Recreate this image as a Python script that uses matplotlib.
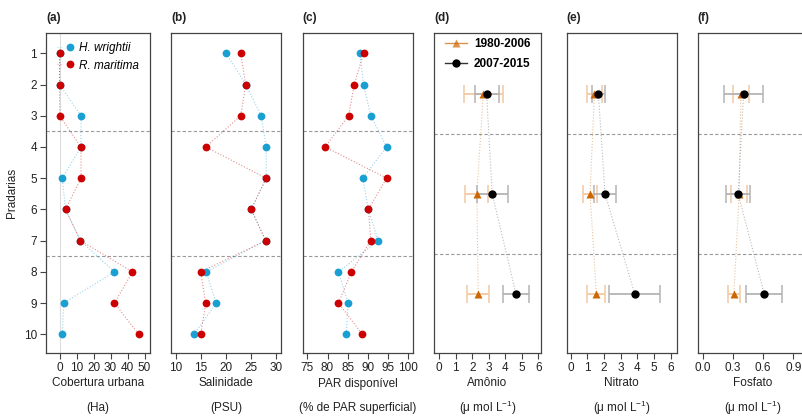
import matplotlib
matplotlib.use("Agg")
import matplotlib.pyplot as plt
from matplotlib.lines import Line2D
from matplotlib.legend_handler import HandlerTuple

plt.rcParams['font.family'] = ['Liberation Sans', 'DejaVu Sans']
plt.rcParams['mathtext.default'] = 'regular'

# ---- data ---------------------------------------------------------------
pradarias = [1, 2, 3, 4, 5, 6, 7, 8, 9, 10]

cobertura_hw = [0, 0, 12.6, 12.6, 1.6, 3.5, 12.2, 32.3, 2.4, 1.6]
cobertura_rm = [0, 0, 0, 12.6, 12.6, 3.5, 12.2, 42.9, 32.3, 46.5]

salinidade_hw = [20.1, 24.0, 27.1, 28.1, 28.1, 25.1, 28.0, 16.1, 18.1, 13.7]
salinidade_rm = [23.0, 24.0, 23.0, 16.0, 28.1, 25.1, 28.0, 15.0, 16.0, 15.0]

par_hw = [88.0, 88.9, 90.7, 94.6, 88.7, 90.1, 92.5, 82.7, 85.1, 84.6]
par_rm = [88.9, 86.6, 85.2, 79.4, 94.6, 90.1, 90.7, 85.9, 82.7, 88.6]

grupos = [1, 2, 3]
amonio_antes = [2.67, 2.28, 2.36]
amonio_antes_err = [1.18, 0.70, 0.65]
amonio_depois = [2.87, 3.21, 4.65]
amonio_depois_err = [0.73, 0.95, 0.80]

nitrato_antes = [1.42, 1.16, 1.54]
nitrato_antes_err = [0.45, 0.42, 0.54]
nitrato_depois = [1.66, 2.06, 3.84]
nitrato_depois_err = [0.40, 0.68, 1.53]

fosfato_antes = [0.378, 0.362, 0.309]
fosfato_antes_err = [0.078, 0.080, 0.060]
fosfato_depois = [0.405, 0.352, 0.610]
fosfato_depois_err = [0.190, 0.120, 0.180]

# ---- style --------------------------------------------------------------
W, H = 802, 416
BLUE = "#1a9fd3"
RED = "#cc0000"
ORANGE = "#cc6600"
FRAME = "#444444"
TXT = "#222222"
FS = 8.5
UNIT = "(μ mol L$^{-1}$)"

fig = plt.figure(figsize=(W / 100, H / 100), dpi=100)


def make_ax(left, right, top=33, bottom=352.7):
    ax = fig.add_axes([left / W, 1 - bottom / H, (right - left) / W, (bottom - top) / H])
    for s in ax.spines.values():
        s.set_color(FRAME)
        s.set_linewidth(0.9)
    ax.tick_params(axis='both', length=4, width=0.8, color=FRAME,
                   labelsize=FS, pad=2.5, labelcolor=TXT)
    return ax


def label_panel(ax, letter, xlab, unit, cx=None):
    bb = ax.get_position()
    fig.text(bb.x0, 1 - 18.5 / H, letter, fontsize=FS, fontweight='bold',
             ha='left', va='center', color=TXT)
    if cx is None:
        cx = (bb.x0 + bb.x1) / 2
    fig.text(cx, 1 - 383.5 / H, xlab, fontsize=FS, ha='center', va='center', color=TXT)
    fig.text(cx, 1 - 407.5 / H, unit, fontsize=FS, ha='center', va='center', color=TXT)


def species_panel(ax, hw, rm, xlim, xticks):
    ax.plot(hw, pradarias, ls=':', lw=0.8, color=BLUE, alpha=0.45, zorder=1)
    ax.plot(rm, pradarias, ls=':', lw=0.8, color=RED, alpha=0.45, zorder=1)
    ax.plot(hw, pradarias, 'o', ms=5.6, color=BLUE, mec='none', zorder=3)
    ax.plot(rm, pradarias, 'o', ms=5.6, color=RED, mec='none', zorder=4)
    for y in (3.5, 7.5):
        ax.axhline(y, color="#999999", ls=(0, (3, 2)), lw=0.8, zorder=0)
    ax.set_xlim(*xlim)
    ax.set_xticks(xticks)
    ax.set_ylim(10.59, 0.35)
    ax.set_yticks(pradarias)


def nutrient_panel(ax, antes, antes_err, depois, depois_err, xlim, xticks):
    ax.plot(antes, grupos, ls=':', lw=0.8, color=ORANGE, alpha=0.4, zorder=1)
    ax.plot(depois, grupos, ls=':', lw=0.8, color="#777777", alpha=0.5, zorder=1)
    ax.errorbar(antes, grupos, xerr=antes_err, fmt='none', ecolor="#f3c9a2",
                elinewidth=1.3, capsize=6.5, capthick=1.1, zorder=2)
    ax.errorbar(depois, grupos, xerr=depois_err, fmt='none', ecolor="#b4b4b4",
                elinewidth=1.3, capsize=6.5, capthick=1.1, zorder=2)
    ax.plot(antes, grupos, '^', ms=6.2, color=ORANGE, mec='none', zorder=3)
    ax.plot(depois, grupos, 'o', ms=6.0, color="black", mec='none', zorder=4)
    for y in (1.4, 2.6):
        ax.axhline(y, color="#999999", ls=(0, (3, 2)), lw=0.8, zorder=0)
    ax.set_xlim(*xlim)
    ax.set_xticks(xticks)
    ax.set_ylim(3.59, 0.39)
    ax.set_yticks([])


# (a) urban cover
ax_a = make_ax(46, 150)
ax_a.axvline(0, color="#dddddd", lw=0.8, zorder=0)
species_panel(ax_a, cobertura_hw, cobertura_rm, (-8.0, 53.2), [0, 10, 20, 30, 40, 50])
ax_a.set_ylabel("Pradarias", fontsize=FS, color=TXT, labelpad=4)


def legend_entry(color):
    line = Line2D([], [], color=color, ls=':', lw=0.8, alpha=0.35)
    dot = Line2D([], [], ls='none', marker='o', ms=5.6, mec='none', color=color)
    return (line, dot)


ax_a.legend([legend_entry(BLUE), legend_entry(RED)], ["H. wrightii", "R. maritima"],
            handler_map={tuple: HandlerTuple(ndivide=None)},
            loc='upper left', bbox_to_anchor=(0.04, 0.995), frameon=False,
            handlelength=1.3, handletextpad=0.55, labelspacing=0.5, borderaxespad=0.2,
            prop={'size': FS, 'style': 'italic'})
label_panel(ax_a, "(a)", "Cobertura urbana", "(Ha)")

# (b) salinity
ax_b = make_ax(171, 281)
species_panel(ax_b, salinidade_hw, salinidade_rm, (9.06, 31.06), [10, 15, 20, 25, 30])
ax_b.set_yticks([])
label_panel(ax_b, "(b)", "Salinidade", "(PSU)")

# (c) available PAR
ax_c = make_ax(302.7, 413.3)
species_panel(ax_c, par_hw, par_rm, (73.86, 101.2), [75, 80, 85, 90, 95, 100])
ax_c.set_yticks([])
label_panel(ax_c, "(c)", "PAR disponível", "(% de PAR superficial)")

# (d) ammonium
ax_d = make_ax(434.3, 540.7)
nutrient_panel(ax_d, amonio_antes, amonio_antes_err, amonio_depois, amonio_depois_err,
               (-0.30, 6.15), [0, 1, 2, 3, 4, 5, 6])
leg_d = [Line2D([], [], color=ORANGE, lw=1.0, alpha=0.7, marker='^', ms=6.2, mec='none',
                markerfacecolor=ORANGE),
         Line2D([], [], color="#333333", lw=1.0, marker='o', ms=6.0, mec='none',
                markerfacecolor='black')]
ax_d.legend(leg_d, ["1980-2006", "2007-2015"], loc='upper left',
            bbox_to_anchor=(0.03, 1.007), frameon=False, handlelength=1.9,
            handletextpad=0.6, labelspacing=0.68, borderaxespad=0.2,
            prop={'size': FS, 'weight': 'bold'})
label_panel(ax_d, "(d)", "Amônio", UNIT)

# (e) nitrate
ax_e = make_ax(566.7, 676.7)
nutrient_panel(ax_e, nitrato_antes, nitrato_antes_err, nitrato_depois, nitrato_depois_err,
               (-0.24, 6.36), [0, 1, 2, 3, 4, 5, 6])
label_panel(ax_e, "(e)", "Nitrato", UNIT)

# (f) phosphate
ax_f = make_ax(697.7, 807.7)
nutrient_panel(ax_f, fosfato_antes, fosfato_antes_err, fosfato_depois, fosfato_depois_err,
               (-0.05, 1.042), [0.0, 0.3, 0.6, 0.9])
ax_f.set_xticklabels(["0.0", "0.3", "0.6", "0.9"])
label_panel(ax_f, "(f)", "Fosfato", UNIT, cx=753 / W)

fig.savefig("out.png", dpi=100)
